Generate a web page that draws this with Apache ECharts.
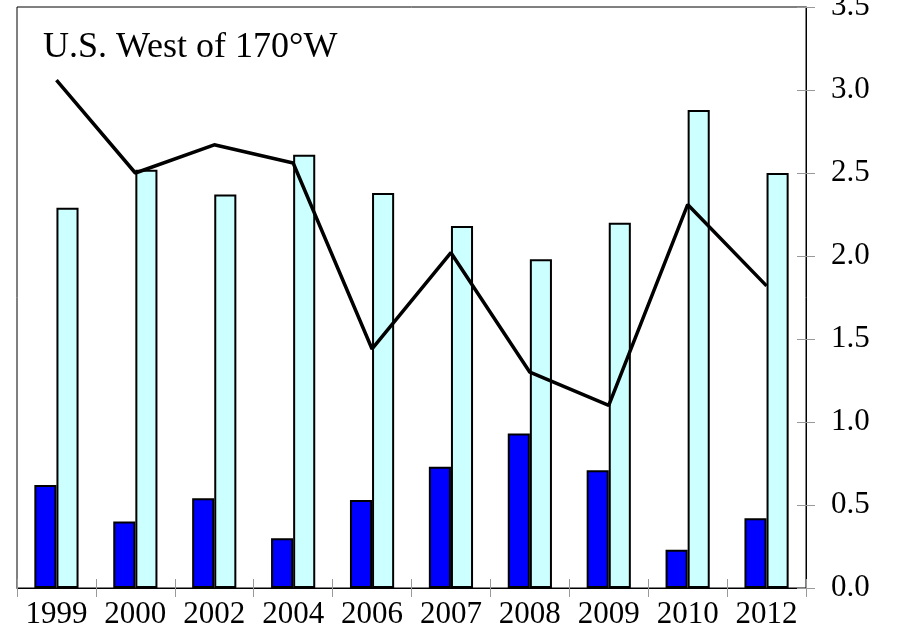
<!DOCTYPE html>
<html>
<head>
<meta charset="utf-8">
<script src="https://cdn.jsdelivr.net/npm/echarts@6/dist/echarts.min.js"></script>
<style>
  html, body { margin: 0; padding: 0; background: #fff; }
  #chart { width: 898px; height: 642px; }
</style>
</head>
<body>
<div id="chart"></div>
<script>
const years = ['1999', '2000', '2002', '2004', '2006', '2007', '2008', '2009', '2010', '2012']
const darkBars = [0.62, 0.40, 0.54, 0.30, 0.53, 0.73, 0.93, 0.71, 0.23, 0.42]
const lightBars = [2.29, 2.52, 2.37, 2.61, 2.38, 2.18, 1.98, 2.20, 2.88, 2.50]
const lineValues = [3.06, 2.50, 2.67, 2.56, 1.44, 2.02, 1.30, 1.10, 2.31, 1.82]

const font = '"Liberation Serif", "Times New Roman", serif'
const tickColor = '#999'

const chart = echarts.init(document.getElementById('chart'))

chart.setOption({
  animation: false,
  title: {
    text: 'U.S. West of 170°W',
    left: 38,
    top: 25,
    textStyle: { fontFamily: font, fontSize: 36, fontWeight: 'normal', color: '#000' },
  },
  grid: {
    left: 17,
    right: 92,
    top: 7,
    bottom: 54,
    outerBoundsMode: 'none',
    containLabel: false,
    show: true,
    borderColor: '#000',
    borderWidth: 1,
  },
  xAxis: [
    {
      type: 'category',
      data: years,
      axisLine: { lineStyle: { color: '#000', width: 1 } },
      axisTick: { show: true, inside: false, length: 9, lineStyle: { color: tickColor } },
      axisLabel: {
        color: '#000',
        fontFamily: font,
        fontSize: 31,
        margin: 11,
        interval: 0,
        hideOverlap: false,
      },
    },
    {
      type: 'category',
      data: years,
      position: 'bottom',
      axisLine: { show: false },
      axisTick: { show: true, inside: true, length: 9, lineStyle: { color: tickColor } },
      axisLabel: { show: false },
    },
  ],
  yAxis: [
    {
      type: 'value',
      position: 'right',
      min: 0,
      max: 3.5,
      interval: 0.5,
      axisLine: { show: true, lineStyle: { color: '#000' } },
      axisTick: { show: true, inside: false, length: 9, lineStyle: { color: tickColor } },
      axisLabel: {
        color: '#000',
        fontFamily: font,
        fontSize: 31,
        margin: 25,
        hideOverlap: false,
        formatter: (v) => v.toFixed(1),
      },
      splitLine: { show: false },
    },
    {
      type: 'value',
      position: 'right',
      min: 0,
      max: 3.5,
      interval: 0.5,
      axisLine: { show: false },
      axisTick: { show: true, inside: true, length: 9, lineStyle: { color: tickColor } },
      axisLabel: { show: false },
      splitLine: { show: false },
    },
  ],
  series: [
    {
      type: 'bar',
      data: darkBars,
      barGap: '0%',
      barCategoryGap: '44%',
      itemStyle: { color: '#0000ff', borderColor: '#000', borderWidth: 2 },
    },
    {
      type: 'bar',
      data: lightBars,
      itemStyle: { color: '#ccffff', borderColor: '#000', borderWidth: 2 },
    },
    {
      type: 'line',
      data: lineValues,
      symbol: 'none',
      lineStyle: { color: '#000', width: 3.5 },
      z: 5,
    },
  ],
})
</script>
</body>
</html>
